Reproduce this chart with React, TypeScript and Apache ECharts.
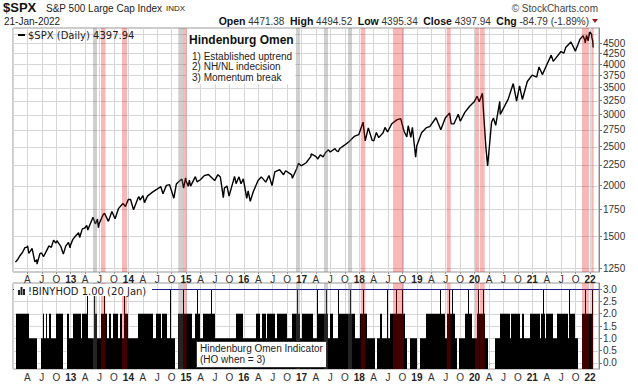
import React, { useEffect, useRef } from "react";
import * as echarts from "echarts";

// ---------- DATA ----------
const priceDates: string[] = [
  "2012-01-17","2012-01-31","2012-02-15","2012-02-29","2012-03-16","2012-03-30","2012-04-02","2012-04-10","2012-04-30","2012-05-18","2012-05-31","2012-06-01","2012-06-19","2012-06-29","2012-07-12","2012-07-31","2012-08-16","2012-08-31","2012-09-14","2012-09-28","2012-10-05","2012-10-31","2012-11-15","2012-11-30","2012-12-18","2012-12-28","2012-12-31",
  "2013-01-15","2013-01-31","2013-02-19","2013-02-25","2013-03-14","2013-03-28","2013-04-11","2013-04-18","2013-04-30","2013-05-21","2013-06-05","2013-06-18","2013-06-24","2013-06-28","2013-07-23","2013-08-02","2013-08-27","2013-09-18","2013-10-08","2013-10-31","2013-11-27","2013-12-03","2013-12-13","2013-12-31",
  "2014-01-15","2014-02-03","2014-02-28","2014-03-07","2014-03-14","2014-04-02","2014-04-11","2014-04-30","2014-05-30","2014-06-30","2014-07-24","2014-08-07","2014-08-29","2014-09-18","2014-10-15","2014-10-31","2014-11-28","2014-12-05","2014-12-16","2014-12-29","2014-12-31",
  "2015-01-15","2015-01-22","2015-01-30","2015-02-27","2015-03-10","2015-03-31","2015-04-24","2015-05-21","2015-06-29","2015-07-20","2015-08-05","2015-08-24","2015-08-31","2015-09-16","2015-09-29","2015-10-30","2015-11-03","2015-11-13","2015-12-01","2015-12-14","2015-12-29",
  "2016-01-20","2016-01-29","2016-02-11","2016-02-29","2016-03-31","2016-04-20","2016-05-19","2016-06-08","2016-06-27","2016-07-15","2016-08-15","2016-09-09","2016-09-22","2016-10-31","2016-11-04","2016-11-30","2016-12-13","2016-12-30",
  "2017-01-31","2017-02-28","2017-03-01","2017-03-31","2017-04-13","2017-04-28","2017-05-17","2017-05-31","2017-06-19","2017-06-30","2017-07-31","2017-08-10","2017-08-21","2017-08-31","2017-09-29","2017-10-31","2017-11-30","2017-12-29",
  "2018-01-26","2018-02-08","2018-02-26","2018-03-23","2018-04-02","2018-04-18","2018-05-03","2018-05-31","2018-06-12","2018-06-28","2018-07-25","2018-08-29","2018-09-20","2018-10-11","2018-10-29","2018-11-07","2018-11-23","2018-12-03","2018-12-24","2018-12-31",
  "2019-01-31","2019-02-28","2019-03-22","2019-04-30","2019-05-31","2019-06-03","2019-06-28","2019-07-26","2019-08-05","2019-08-23","2019-09-19","2019-10-02","2019-10-31","2019-11-29","2019-12-31",
  "2020-01-17","2020-01-31","2020-02-19","2020-02-28","2020-03-12","2020-03-23","2020-04-17","2020-04-29","2020-05-13","2020-06-08","2020-06-11","2020-07-31","2020-09-02","2020-09-23","2020-10-12","2020-10-30","2020-11-30","2020-12-31",
  "2021-01-29","2021-02-12","2021-03-04","2021-03-31","2021-04-29","2021-05-12","2021-06-30","2021-07-19","2021-07-30","2021-09-02","2021-09-30","2021-10-04","2021-10-29","2021-11-18","2021-11-30","2021-12-01","2021-12-10","2021-12-20","2021-12-29",
  "2022-01-03","2022-01-12","2022-01-13","2022-01-18","2022-01-20","2022-01-21",
];
const priceCloses: number[] = [
  1293,1312,1343,1366,1404,1408,1419,1358,1398,1295,1310,1278,1357,1362,1334,1379,1418,1406,1466,1441,1461,1412,1353,1416,1447,1402,1426,
  1472,1498,1530,1488,1563,1569,1593,1553,1598,1669,1608,1652,1573,1606,1692,1709,1631,1725,1655,1757,1807,1795,1775,1848,
  1848,1742,1859,1878,1841,1890,1815,1884,1924,1960,1988,1910,2003,2011,1862,2018,2068,2075,1972,2090,2059,
  1992,2063,1995,2105,2044,2068,2117,2131,2058,2129,2100,1868,1972,1996,1884,2079,2109,2023,2103,2022,2078,
  1859,1940,1829,1932,2060,2102,2040,2119,2001,2162,2190,2128,2177,2126,2085,2199,2271,2239,
  2279,2364,2396,2363,2329,2384,2357,2412,2453,2423,2470,2438,2428,2472,2519,2575,2648,2674,
  2873,2581,2780,2588,2582,2708,2630,2705,2787,2716,2846,2914,2931,2728,2641,2814,2633,2790,2351,2507,
  2704,2784,2801,2946,2752,2744,2942,3026,2844,2847,3006,2887,3038,3141,3231,
  3330,3226,3386,2954,2481,2237,2875,2939,2820,3232,3002,3271,3580,3237,3534,3270,3622,3756,
  3714,3935,3768,3973,4211,4063,4298,4258,4395,4537,4308,4300,4605,4705,4567,4513,4712,4568,4793,
  4797,4726,4659,4577,4483,4398,
];
const priceTicks: number[] = [1250,1500,1750,2000,2250,2500,2750,3000,3250,3500,3750,4000,4250,4500,4750];
const hoTicks: number[] = [0,0.5,1,1.5,2,2.5,3];

// Hindenburg Omen indicator spans (decimal years) by level
const hoLevel1Spans: [number, number][] = [
  [2012.047,2012.411],[2012.490,2012.872],[2012.941,2014.808],[2014.865,2018.274],[2018.303,2018.378],
  [2018.400,2018.823],[2018.880,2018.997],[2019.054,2019.690],[2019.735,2020.237],[2020.354,2021.797],[2021.856,2022.055],
];
const hoLevel2Spans: [number, number][] = [
  [2012.047,2012.277],[2012.525,2012.542],[2012.572,2012.594],[2012.619,2012.653],[2012.740,2012.872],
  [2012.941,2012.971],[2013.045,2013.173],[2013.201,2013.300],[2013.404,2013.461],[2013.530,2013.634],
  [2013.664,2013.693],[2013.738,2013.820],[2013.854,2013.894],[2013.924,2013.993],[2014.166,2014.432],
  [2014.473,2014.560],[2014.582,2014.664],[2014.865,2015.097],[2015.154,2015.241],[2015.298,2015.501],
  [2015.865,2015.991],[2016.211,2016.281],[2016.310,2016.385],[2016.397,2016.541],[2016.581,2016.744],
  [2016.830,2016.917],[2016.945,2016.974],[2017.004,2017.205],[2017.291,2017.465],[2017.494,2017.551],
  [2017.638,2017.927],[2018.014,2018.130],[2018.361,2018.390],[2018.534,2018.794],[2019.153,2019.487],
  [2019.517,2019.660],[2019.834,2019.950],[2020.036,2020.180],[2020.440,2020.614],[2020.626,2020.787],
  [2020.816,2020.856],[2020.960,2021.133],[2021.146,2021.220],[2021.237,2021.364],[2021.423,2021.624],
  [2021.653,2021.740],[2021.856,2022.055],
];
const hoLevel3Days: number[] = [
  2013.277,2013.404,2013.577,2013.924,2014.721,2014.941,2015.184,2015.426,2016.927,2017.263,2017.419,
  2017.627,2017.841,2018.071,2018.477,2018.633,2018.737,2019.400,2019.556,2019.603,2019.891,2020.064,
  2020.151,2021.191,2021.641,2021.913,2022.030,
];
const redBands: [number, number][] = [
  [2013.525,2013.603],[2013.889,2013.976],[2014.946,2015.010],[2018.026,2018.106],[2018.586,2018.776],
  [2019.517,2019.586],[2020.007,2020.076],[2020.094,2020.175],[2021.861,2021.983],[2022.023,2022.064],
];
const grayBands: [number, number][] = [
  [2013.386,2013.456],[2014.865,2014.946],[2016.905,2016.974],[2017.390,2017.459],[2017.806,2017.875],
];

// ---------- LAYOUT CONSTANTS ----------
const X_MIN = 2012;
const X_MAX = 2022.156;
const LN_MIN = Math.log(1222);
const LN_MAX = Math.log(4915);
const HO_MIN = -0.25;
const HO_MAX = 3.25;
const FONT = "Liberation Sans, Arial, sans-serif";
const DV = "DejaVu Sans, sans-serif";
const RED = "rgba(232,0,0,0.28)";
const GRAY = "rgba(110,110,110,0.33)";

function toYear(s: string): number {
  const [y, m, d] = s.split("-").map(Number);
  const dim = new Date(y, m, 0).getDate();
  return y + (m - 1) / 12 + (d - 1) / (dim * 12);
}

function xLabel(v: number): string {
  const q4 = v * 4;
  if (Math.abs(q4 - Math.round(q4)) > 1e-3) return "";
  const r = Math.round(q4);
  const yr = Math.floor(r / 4);
  const q = ((r % 4) + 4) % 4;
  if (q === 0) return "{b|" + String(yr).slice(2) + "}";
  return ["", "A", "J", "O"][q];
}

export default function App() {
  const ref = useRef<HTMLDivElement>(null);
  useEffect(() => {
    const chart = echarts.init(ref.current!, null, { renderer: "svg" });

    const priceData = priceDates.map((d, i) => [toYear(d), Math.log(priceCloses[i])]);
    const bandData = [
      ...redBands.map((b) => [b[0], b[1], 0]),
      ...grayBands.map((b) => [b[0], b[1], 1]),
    ];
    const hoData = [
      ...hoLevel1Spans.map((s) => [s[0], s[1], 1]),
      ...hoLevel2Spans.map((s) => [s[0], s[1], 2]),
      ...hoLevel3Days.map((t) => [t, t, 3]),
    ];

    const bandRender = (params: any, api: any) => {
      const cs = params.coordSys;
      const x1 = api.coord([api.value(0), api.value(2)])[0];
      const x2 = api.coord([api.value(1), api.value(2)])[0];
      return {
        type: "rect",
        shape: { x: x1, y: cs.y, width: Math.max(1, x2 - x1), height: cs.height },
        style: { fill: api.value(2) === 1 ? GRAY : RED },
      };
    };
    const hLineRender = (color: string) => (params: any, api: any) => {
      const cs = params.coordSys;
      const y = Math.round(api.coord([api.value(0), api.value(1)])[1]) + 0.5;
      return {
        type: "line",
        shape: { x1: cs.x, y1: y, x2: cs.x + cs.width, y2: y },
        style: { stroke: color, lineWidth: 1 },
      };
    };
    const hoRender = (params: any, api: any) => {
      const p1 = api.coord([api.value(0), api.value(2)]);
      const p2 = api.coord([api.value(1), HO_MIN]);
      const x = Math.round(p1[0]);
      let w = Math.round(p2[0]) - x;
      if (w < 1) w = 1;
      return {
        type: "rect",
        shape: { x, y: p1[1], width: w, height: p2[1] - p1[1] },
        style: { fill: "#000" },
      };
    };

    const xAxisBase = (gridIndex: number, margin: number) => ({
      type: "value",
      gridIndex,
      min: X_MIN,
      max: X_MAX,
      interval: 0.25,
      axisLine: { show: false },
      axisTick: { show: true, length: 2, lineStyle: { color: "#999" } },
      axisLabel: {
        show: true,
        margin,
        showMinLabel: false,
        showMaxLabel: false,
        fontSize: 10,
        fontFamily: FONT,
        color: "#333",
        formatter: xLabel,
        rich: { b: { fontSize: 10, fontFamily: FONT, fontWeight: "bold", color: "#222" } },
      },
      splitLine: { show: true, lineStyle: { color: "#d6d6d6", width: 1 } },
    });

    const option: any = {
      animation: false,
      backgroundColor: "#fff",
      grid: [
        { left: 13, top: 28, width: 586, height: 244, show: true, borderColor: "#999", borderWidth: 1 },
        { left: 13, top: 283, width: 586, height: 86, show: true, borderColor: "#999", borderWidth: 1 },
      ],
      xAxis: [xAxisBase(0, 2), xAxisBase(1, 3)],
      yAxis: [
        {
          type: "value",
          gridIndex: 0,
          position: "right",
          min: LN_MIN,
          max: LN_MAX,
          splitLine: { show: false },
          axisLine: { show: true, lineStyle: { color: "#888" } },
          axisTick: { show: true, length: 3, customValues: priceTicks.map((v) => Math.log(v)), lineStyle: { color: "#777" } },
          axisLabel: {
            show: true,
            margin: 4,
            fontSize: 10,
            fontFamily: FONT,
            color: "#333",
            customValues: priceTicks.map((v) => Math.log(v)),
            formatter: (v: number) => String(Math.round(Math.exp(v))),
          },
        },
        {
          type: "value",
          gridIndex: 1,
          position: "right",
          min: HO_MIN,
          max: HO_MAX,
          splitLine: { show: false },
          axisLine: { show: true, lineStyle: { color: "#888" } },
          axisTick: { show: true, length: 3, customValues: hoTicks, lineStyle: { color: "#777" } },
          axisLabel: {
            show: true,
            margin: 4,
            fontSize: 10,
            fontFamily: FONT,
            color: "#333",
            customValues: hoTicks,
            formatter: (v: number) => v.toFixed(1),
          },
        },
      ],
      series: [
        {
          type: "custom",
          name: "priceGrid",
          xAxisIndex: 0,
          yAxisIndex: 0,
          z: 1,
          silent: true,
          encode: { x: 0, y: 1 },
          data: priceTicks.map((v) => [X_MIN, Math.log(v)]),
          renderItem: hLineRender("#d6d6d6"),
        },
        {
          type: "line",
          name: "$SPX",
          xAxisIndex: 0,
          yAxisIndex: 0,
          z: 3,
          showSymbol: false,
          symbol: "none",
          silent: true,
          lineStyle: { color: "#000", width: 1.4 },
          data: priceData,
        },
        {
          type: "custom",
          name: "bands0",
          xAxisIndex: 0,
          yAxisIndex: 0,
          z: 5,
          silent: true,
          encode: { x: [0, 1], y: 2 },
          data: bandData,
          renderItem: bandRender,
        },
        {
          type: "custom",
          name: "hoGrid",
          xAxisIndex: 1,
          yAxisIndex: 1,
          z: 1,
          silent: true,
          encode: { x: 0, y: 1 },
          data: hoTicks.filter((v) => v < 3).map((v) => [X_MIN, v]),
          renderItem: hLineRender("#d6d6d6"),
        },
        {
          type: "custom",
          name: "!BINYHOD",
          xAxisIndex: 1,
          yAxisIndex: 1,
          z: 3,
          silent: true,
          encode: { x: [0, 1], y: 2 },
          data: hoData,
          renderItem: hoRender,
        },
        {
          type: "custom",
          name: "hoLine3",
          xAxisIndex: 1,
          yAxisIndex: 1,
          z: 4,
          silent: true,
          encode: { x: 0, y: 1 },
          data: [[X_MIN, 3]],
          renderItem: hLineRender("#1c1c8a"),
        },
        {
          type: "custom",
          name: "bands1",
          xAxisIndex: 1,
          yAxisIndex: 1,
          z: 5,
          silent: true,
          encode: { x: [0, 1], y: 2 },
          data: bandData,
          renderItem: bandRender,
        },
      ],
      graphic: [
        { type: "text", z: 100, x: 3, y: 7.5, style: { text: "$SPX", fontSize: 13, fontWeight: "bold", fontFamily: FONT, fill: "#111", verticalAlign: "middle" } },
        { type: "text", z: 100, x: 46, y: 8, style: { text: "S&P 500 Large Cap Index", fontSize: 10, fontFamily: FONT, fill: "#222", verticalAlign: "middle" } },
        { type: "text", z: 100, x: 166, y: 8, style: { text: "INDX", fontSize: 8, fontFamily: FONT, fill: "#222", verticalAlign: "middle" } },
        { type: "text", z: 100, x: 4, y: 21, style: { text: "21-Jan-2022", fontSize: 10, fontFamily: FONT, fill: "#222", verticalAlign: "middle" } },
        { type: "text", z: 100, x: 598, y: 8, style: { text: "© StockCharts.com", fontSize: 10, fontFamily: FONT, fill: "#444", align: "right", verticalAlign: "middle" } },
        {
          type: "text", z: 100, x: 589, y: 21,
          style: {
            text: "{b|Open} 4471.38  {b|High} 4494.52  {b|Low} 4395.34  {b|Close} 4397.94  {b|Chg} -84.79 (-1.89%)",
            fontSize: 10, fontFamily: FONT, fill: "#333", align: "right", verticalAlign: "middle",
            rich: { b: { fontSize: 10.5, fontWeight: "bold", fontFamily: FONT, fill: "#111" } },
          },
        },
        { type: "polygon", z: 100, shape: { points: [[592, 19], [598, 19], [595, 23]] }, style: { fill: "#9b1b1b" } },
        // main legend
        { type: "rect", z: 100, shape: { x: 18, y: 34, width: 7, height: 2 }, style: { fill: "#000" } },
        { type: "text", z: 100, x: 28, y: 35.5, style: { text: "$SPX (Daily) 4397.94", fontSize: 10, fontFamily: DV, fill: "#222", verticalAlign: "middle" } },
        // Hindenburg annotation
        { type: "rect", z: 100, shape: { x: 187, y: 29, width: 108, height: 55 }, style: { fill: "#fff" } },
        { type: "text", z: 101, x: 189, y: 40, style: { text: "Hindenburg Omen", fontSize: 12, fontWeight: "bold", fontFamily: FONT, fill: "#111", verticalAlign: "middle" } },
        { type: "text", z: 101, x: 192, y: 56, style: { text: "1) Established uptrend", fontSize: 10, fontFamily: FONT, fill: "#222", verticalAlign: "middle" } },
        { type: "text", z: 101, x: 192, y: 66.7, style: { text: "2) NH/NL indecision", fontSize: 10, fontFamily: FONT, fill: "#222", verticalAlign: "middle" } },
        { type: "text", z: 101, x: 192, y: 77.3, style: { text: "3) Momentum break", fontSize: 10, fontFamily: FONT, fill: "#222", verticalAlign: "middle" } },
        // bottom legend
        { type: "rect", z: 100, shape: { x: 14, y: 284, width: 138, height: 12 }, style: { fill: "#fff" } },
        { type: "rect", z: 101, shape: { x: 18, y: 290, width: 2, height: 5 }, style: { fill: "#222" } },
        { type: "rect", z: 101, shape: { x: 20.5, y: 287, width: 2, height: 8 }, style: { fill: "#222" } },
        { type: "rect", z: 101, shape: { x: 23, y: 289, width: 2, height: 6 }, style: { fill: "#222" } },
        { type: "text", z: 101, x: 28, y: 291, style: { text: "!BINYHOD 1.00 (20 Jan)", fontSize: 10, fontFamily: DV, fill: "#222", verticalAlign: "middle" } },
        // bottom annotation box
        { type: "rect", z: 100, shape: { x: 196.5, y: 341.5, width: 130, height: 26 }, style: { fill: "#fff", stroke: "#333", lineWidth: 1 } },
        { type: "text", z: 101, x: 200, y: 348, style: { text: "Hindenburg Omen Indicator", fontSize: 10, fontFamily: FONT, fill: "#222", verticalAlign: "middle" } },
        { type: "text", z: 101, x: 200, y: 359.5, style: { text: "(HO when = 3)", fontSize: 10, fontFamily: FONT, fill: "#222", verticalAlign: "middle" } },
      ],
    };

    chart.setOption(option);
    return () => chart.dispose();
  }, []);

  return (
    <div
      ref={ref}
      style={{ position: "fixed", left: 0, top: 0, width: 638, height: 384, background: "#fff" }}
    />
  );
}
